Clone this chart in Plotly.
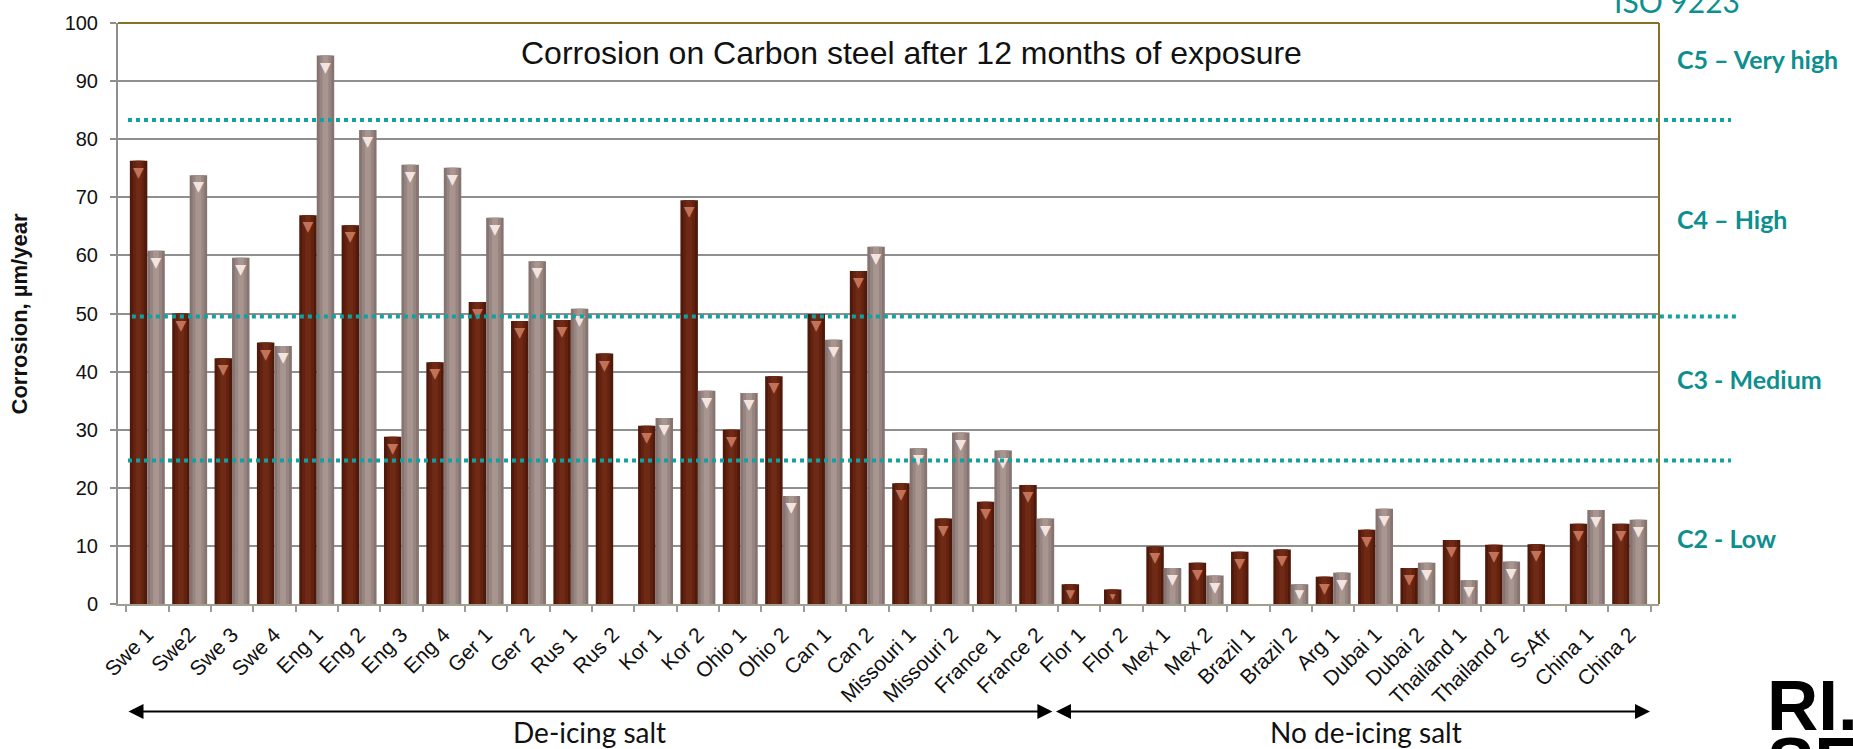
import plotly.graph_objects as go

# Exposure sites (category axis)
sites = ["Swe 1", "Swe2", "Swe 3", "Swe 4", "Eng 1", "Eng 2", "Eng 3", "Eng 4",
         "Ger 1", "Ger 2", "Rus 1", "Rus 2", "Kor 1", "Kor 2", "Ohio 1", "Ohio 2",
         "Can 1", "Can 2", "Missouri 1", "Missouri 2", "France 1", "France 2",
         "Flor 1", "Flor 2", "Mex 1", "Mex 2", "Brazil 1", "Brazil 2", "Arg 1",
         "Dubai 1", "Dubai 2", "Thailand 1", "Thailand 2", "S-Afr", "China 1", "China 2"]

# Corrosion rate, µm/year - first and second exposure
corr_first = [76.3, 50.0, 42.3, 45.0, 66.9, 65.2, 28.8, 41.6, 52.0, 48.7, 48.9, 43.1,
              30.7, 69.5, 30.0, 39.2, 49.9, 57.3, 20.8, 14.7, 17.6, 20.5, 3.4, 2.5,
              9.9, 7.1, 9.0, 9.4, 4.7, 12.8, 6.2, 11.0, 10.2, 10.3, 13.8, 13.8]
corr_second = [60.8, 73.8, 59.6, 44.4, 94.4, 81.6, 75.6, 75.1, 66.5, 59.0, 50.8, None,
               32.0, 36.7, 36.3, 18.6, 45.5, 61.5, 26.8, 29.5, 26.4, 14.7, None, None,
               6.2, 4.9, None, 3.4, 5.4, 16.4, 7.1, 4.1, 7.3, None, 16.2, 14.5]

# ISO 9223 category limits and class labels
class_limits = [83.3, 49.5, 24.7]
class_labels = ["C5 – Very high", "C4 – High", "C3 - Medium", "C2 - Low"]
class_label_y = [93.8, 66.3, 38.8, 11.4]

# Site groups: (label, first index, last index)
groups = [("De-icing salt", 0, 21), ("No de-icing salt", 22, 35)]

ARIAL = "Liberation Sans, Arial, sans-serif"
LATO = "Lato, sans-serif"
TEAL = "#0d8f8f"

BAR_W = 0.4125  # width of one bar in category units


def shaded_bar(values, offset, edge, mid, light, tri_color, name):
    """Bar drawn as layered strips to give a rounded, shaded look."""
    center = offset + BAR_W / 2
    layers = [
        go.Bar(x=sites, y=values, name=name, offset=offset, width=BAR_W,
               marker=dict(color=edge, line=dict(width=0))),
        go.Bar(x=sites, y=values, name=name, offset=center - BAR_W * 0.34,
               width=BAR_W * 0.68, marker=dict(color=mid, line=dict(width=0))),
        go.Bar(x=sites, y=values, name=name, offset=center - BAR_W * 0.17,
               width=BAR_W * 0.34, marker=dict(color=light, line=dict(width=0))),
        go.Bar(x=sites, y=values, name=name, offset=offset, width=BAR_W,
               marker=dict(color="rgba(0,0,0,0)", line=dict(width=0)),
               text=["▼" if v is not None else "" for v in values],
               textposition="inside", insidetextanchor="end", textangle=0,
               textfont=dict(color=tri_color, size=14, family="DejaVu Sans")),
    ]
    return layers


fig = go.Figure()
for tr in shaded_bar(corr_first, -BAR_W, "#4f190b", "#62220f", "#6f2a15", "#c27258",
                     "Exposure 1"):
    fig.add_trace(tr)
for tr in shaded_bar(corr_second, 0.0, "#857470", "#978581", "#a8958f", "#f4e4e0",
                     "Exposure 2"):
    fig.add_trace(tr)

shapes = []
# threshold lines, running past the right frame
ends = [(0.0065, 1.0467), (0.009, 1.0506), (0.0065, 1.0467)]
for lim, (x0, x1) in zip(class_limits, ends):
    shapes.append(dict(type="line", xref="paper", yref="y", x0=x0, x1=x1, y0=lim, y1=lim,
                       line=dict(color="#12a0a0", width=4, dash="4px,4px"), layer="above"))
# olive top and right frame
shapes.append(dict(type="line", xref="paper", yref="paper", x0=0, x1=1, y0=1, y1=1,
                   line=dict(color="#857226", width=2), layer="above"))
shapes.append(dict(type="line", xref="paper", yref="paper", x0=1, x1=1, y0=0, y1=1,
                   line=dict(color="#857226", width=2), layer="above"))

annotations = []
annotations.append(dict(text="Corrosion on Carbon steel after 12 months of exposure",
                        xref="paper", yref="y", x=0.515, y=94.9, showarrow=False,
                        xanchor="center", yanchor="middle",
                        font=dict(family=ARIAL, size=32, color="#111111")))
annotations.append(dict(text="<b>Corrosion, µm/year</b>", textangle=-90,
                        xref="paper", yref="y", x=-0.0636, y=50, showarrow=False,
                        xanchor="center", yanchor="middle",
                        font=dict(family=ARIAL, size=22, color="#111111")))
for lab, yy in zip(class_labels, class_label_y):
    annotations.append(dict(text="<b>" + lab + "</b>", xref="paper", yref="y",
                            x=1.0105, y=yy, xanchor="left", yanchor="middle",
                            showarrow=False,
                            font=dict(family=LATO, size=25, color=TEAL)))
annotations.append(dict(text="ISO 9223", xref="paper", yref="paper", x=1.012, y=1.0385,
                        xanchor="center", yanchor="middle", showarrow=False,
                        font=dict(family=LATO, size=30, color=TEAL)))

# double-headed arrows spanning each site group
arrow_y = -0.185
for label, i0, i1 in groups:
    left = i0 - 0.48 if i0 == 0 else i0 - 0.58
    right = i1 + 0.37 if i1 < len(sites) - 1 else i1 + 0.48
    annotations.append(dict(text="", xref="x", yref="paper", x=right, y=arrow_y,
                            axref="x", ax=left, ayref="pixel", ay=0,
                            showarrow=True, arrowhead=2, arrowsize=1.5, arrowwidth=2,
                            arrowside="end+start", arrowcolor="#000000",
                            standoff=0, startstandoff=0))
label_x = {"De-icing salt": 0.306, "No de-icing salt": 0.81}
for label, i0, i1 in groups:
    annotations.append(dict(text=label, xref="paper", yref="paper", x=label_x[label],
                            y=-0.2209, xanchor="center", yanchor="middle",
                            showarrow=False,
                            font=dict(family=LATO, size=28, color="#111111")))

# logo text
annotations.append(dict(text="<b>RI.</b>", xref="paper", yref="paper", x=1.069, y=-0.1747,
                        xanchor="left", yanchor="middle", showarrow=False,
                        font=dict(family=ARIAL, size=71, color="#000000")))
annotations.append(dict(text="<b>SE</b>", xref="paper", yref="paper", x=1.069, y=-0.272,
                        xanchor="left", yanchor="middle", showarrow=False,
                        font=dict(family=ARIAL, size=71, color="#000000")))

fig.update_layout(
    width=1853, height=749,
    margin=dict(l=118, r=194, t=20, b=145),
    paper_bgcolor="white", plot_bgcolor="white",
    barmode="overlay",
    showlegend=False,
    shapes=shapes, annotations=annotations,
    font=dict(family=ARIAL, color="#111111"),
    xaxis=dict(type="category", tickangle=-45, tickfont=dict(size=21, color="#111111"),
               ticks="outside", tickson="boundaries", ticklen=6, tickcolor="#9a9a9a",
               tickwidth=2, showline=True, linecolor="#a39f8e", linewidth=2,
               showgrid=False, ticklabelstandoff=8),
    yaxis=dict(range=[0, 100], dtick=10, showgrid=True, gridcolor="#8f8f8f", gridwidth=2,
               showline=True, linecolor="#8f8f8f", linewidth=2, ticks="outside",
               ticklen=6, tickcolor="#8f8f8f", tickwidth=2, zeroline=False,
               tickfont=dict(size=20, color="#111111"), ticklabelstandoff=8),
)

fig.write_html("out.html")
